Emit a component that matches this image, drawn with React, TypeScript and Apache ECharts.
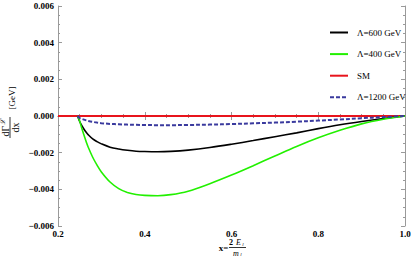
import React, { useEffect, useRef } from "react";
import * as echarts from "echarts";

const xs = [0.245, 0.2475, 0.25, 0.255, 0.26, 0.265, 0.27, 0.28, 0.29, 0.3, 0.32, 0.34, 0.36, 0.38, 0.4, 0.43, 0.46, 0.5, 0.55, 0.6, 0.65, 0.7, 0.75, 0.8, 0.85, 0.9, 0.95, 1.0];
const lambda600 = [0, -0.00015, -0.0003, -0.00053, -0.00072, -0.00089, -0.00103, -0.00125, -0.0014, -0.00152, -0.0017, -0.0018, -0.00187, -0.00192, -0.00194, -0.00195, -0.00193, -0.00186, -0.00172, -0.00154, -0.00134, -0.00113, -0.00092, -0.00069, -0.00048, -0.0003, -0.00014, 0];
const lambda400 = [0, -0.00012, -0.00028, -0.00068, -0.00105, -0.0014, -0.00172, -0.00225, -0.00268, -0.00305, -0.0036, -0.00396, -0.00417, -0.00428, -0.00433, -0.00435, -0.00429, -0.0041, -0.00369, -0.00322, -0.00271, -0.00218, -0.00166, -0.00119, -0.00078, -0.00043, -0.00018, 0];
const lambda1200 = [0, -0.00006, -0.00011, -0.00016, -0.0002, -0.00024, -0.00027, -0.00032, -0.00036, -0.00039, -0.00043, -0.00045, -0.00047, -0.00048, -0.00049, -0.0005, -0.0005, -0.00049, -0.00047, -0.00044, -0.0004, -0.00036, -0.00031, -0.00025, -0.00019, -0.00012, -0.00006, 0];
const smX = [0.2, 1.0];
const smY = [0, 0];
const names = ["Λ=600 GeV", "Λ=400 GeV", "SM", "Λ=1200 GeV"];

const fmtY = (v: number) => (v < 0 ? "−" : "") + Math.abs(v).toFixed(3);
const serif = "Liberation Serif";

export default function App() {
  const ref = useRef<HTMLDivElement>(null);
  useEffect(() => {
    const chart = echarts.init(ref.current!, undefined, { renderer: "svg" });
    const pairs = (x: number[], y: number[]) => x.map((v, i) => [v, y[i]]);
    const axisLine = { show: true, lineStyle: { color: "#9a9a9a", width: 1 } };
    const tickInside = { show: true, inside: true, length: 4, lineStyle: { color: "#9a9a9a" } };
    const minorInside = { show: true, splitNumber: 4, length: 2, lineStyle: { color: "#9a9a9a" } };
    const labelStyle = { fontFamily: serif, fontWeight: "bold" as const, fontSize: 9, color: "#000" };
    const smooth = { smooth: 0.35, symbol: "none", showSymbol: false };
    chart.setOption({
      animation: false,
      grid: { left: 58, right: 10, top: 6, bottom: 45 },
      legend: {
        orient: "vertical",
        left: 324,
        top: 23,
        itemWidth: 18,
        itemHeight: 10,
        itemGap: 12.6,
        data: names,
        itemStyle: { opacity: 0 },
        textStyle: { fontFamily: serif, fontSize: 9, color: "#000", padding: [0, 0, 0, 4] },
      },
      xAxis: [
        {
          type: "value", min: 0.2, max: 1.0, interval: 0.2,
          axisLine, axisTick: tickInside, minorTick: minorInside,
          splitLine: { show: false },
          axisLabel: { ...labelStyle, margin: 3, formatter: (v: number) => v.toFixed(1) },
        },
        {
          type: "value", position: "top", min: 0.2, max: 1.0, interval: 0.2,
          axisLine, axisTick: tickInside, minorTick: minorInside,
          splitLine: { show: false }, axisLabel: { show: false },
        },
      ],
      yAxis: [
        {
          type: "value", min: -0.006, max: 0.006, interval: 0.002,
          axisLine, axisTick: tickInside, minorTick: minorInside,
          splitLine: { show: false },
          axisLabel: { ...labelStyle, margin: 4, formatter: fmtY },
        },
        {
          type: "value", position: "right", min: -0.006, max: 0.006, interval: 0.002,
          axisLine, axisTick: tickInside, minorTick: minorInside,
          splitLine: { show: false }, axisLabel: { show: false },
        },
      ],
      series: [
        { name: names[0], type: "line", data: pairs(xs, lambda600), ...smooth, z: 3, lineStyle: { color: "#000", width: 1.6 }, itemStyle: { color: "#000" } },
        { name: names[1], type: "line", data: pairs(xs, lambda400), ...smooth, z: 3, lineStyle: { color: "#22f000", width: 1.6 }, itemStyle: { color: "#22f000" } },
        { name: names[2], type: "line", data: pairs(smX, smY), symbol: "none", showSymbol: false, z: 2, lineStyle: { color: "#e8141c", width: 2 }, itemStyle: { color: "#e8141c" } },
        { name: names[3], type: "line", data: pairs(xs, lambda1200), ...smooth, z: 4, lineStyle: { color: "#3a3a9e", width: 2, type: [4, 2] }, itemStyle: { color: "#3a3a9e" } },
      ],
      graphic: [
        {
          type: "group", x: 10, y: 116, rotation: Math.PI / 2,
          children: [
            { type: "text", x: -15, y: -4.5, style: { text: "dΓ", font: `10px ${serif}`, fill: "#000", align: "center", verticalAlign: "middle" } },
            { type: "text", x: -6, y: -7, style: { text: "ℒ", font: `italic 7px ${serif}`, fill: "#000", align: "center", verticalAlign: "middle" } },
            { type: "line", shape: { x1: -22, y1: 0, x2: -1, y2: 0 }, style: { stroke: "#000", lineWidth: 0.8 } },
            { type: "text", x: -11.5, y: 5, style: { text: "dx", font: `10px ${serif}`, fill: "#000", align: "center", verticalAlign: "middle" } },
            { type: "text", x: 18, y: 2, style: { text: "[GeV]", font: `9px ${serif}`, fill: "#000", align: "center", verticalAlign: "middle" } },
          ],
        },
        {
          type: "group", x: 0, y: 0,
          children: [
            { type: "text", x: 228.5, y: 247.5, style: { text: "x=", font: `bold 9px ${serif}`, fill: "#000", align: "right", verticalAlign: "middle" } },
            { type: "text", x: 231, y: 242.5, style: { text: "2", font: `bold 8px ${serif}`, fill: "#000", align: "center", verticalAlign: "middle" } },
            { type: "text", x: 238.5, y: 242.5, style: { text: "E", font: `italic 8px ${serif}`, fill: "#000", align: "center", verticalAlign: "middle" } },
            { type: "text", x: 243, y: 244, style: { text: "l", font: `italic 5px ${serif}`, fill: "#000", align: "center", verticalAlign: "middle" } },
            { type: "line", shape: { x1: 229, y1: 247.5, x2: 246, y2: 247.5 }, style: { stroke: "#000", lineWidth: 0.8 } },
            { type: "text", x: 236, y: 253, style: { text: "m", font: `italic 8px ${serif}`, fill: "#000", align: "center", verticalAlign: "middle" } },
            { type: "text", x: 241, y: 254.5, style: { text: "l", font: `italic 5px ${serif}`, fill: "#000", align: "center", verticalAlign: "middle" } },
          ],
        },
      ],
    });
    return () => chart.dispose();
  }, []);
  return <div ref={ref} style={{ width: 415, height: 271, position: "absolute", left: 0, top: 0 }} />;
}
